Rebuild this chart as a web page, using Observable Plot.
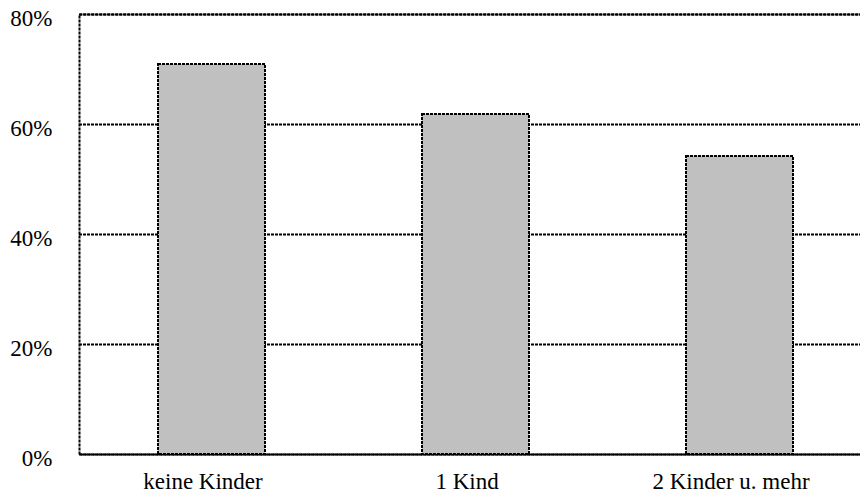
<!DOCTYPE html>
<html>
<head>
<meta charset="utf-8">
<script src="https://cdn.jsdelivr.net/npm/d3@7"></script>
<script src="https://cdn.jsdelivr.net/npm/@observablehq/plot@0.6"></script>
<style>
  html, body { margin: 0; padding: 0; background: white; overflow: hidden; }
  #chart svg { overflow: hidden; }
  #chart svg text { font-family: "Liberation Serif", "Times New Roman", serif !important; font-size: 23px !important; }
</style>
</head>
<body>
<div id="chart"></div>
<script>
const categories = ["keine Kinder", "1 Kind", "2 Kinder u. mehr"];
const values = [70.9, 61.8, 54.2];
const yTicks = [0, 20, 40, 60, 80];

const data = categories.map((c, i) => ({category: c, value: values[i]}));
const dash = "3,1";

const chart = Plot.plot({
  width: 860,
  height: 493,
  marginLeft: 79,
  marginRight: -11,
  marginTop: 14,
  marginBottom: 39,
  style: {fontFamily: "Liberation Serif", fontSize: "23px", background: "white", color: "black", overflow: "hidden"},
  x: {domain: categories, paddingInner: 0.595, paddingOuter: 0.2975, label: null},
  y: {domain: [0, 80], ticks: yTicks, tickFormat: d => d + "%", label: null},
  marks: [
    Plot.ruleY(yTicks, {stroke: "#000", strokeWidth: 2, strokeDasharray: dash}),
    Plot.frame({stroke: "#000", strokeWidth: 2, strokeDasharray: dash}),
    Plot.barY(data, {x: "category", y: "value", fill: "#c0c0c0", stroke: "#000", strokeWidth: 2, strokeDasharray: dash}),
    Plot.axisX({tickSize: 0, tickPadding: 18, dx: -9, fill: "#000"}),
    Plot.axisY({ticks: yTicks, tickSize: 0, tickPadding: 27, dy: 4.5, fill: "#000", tickFormat: d => d + "%"})
  ]
});
document.getElementById("chart").append(chart);
</script>
</body>
</html>
